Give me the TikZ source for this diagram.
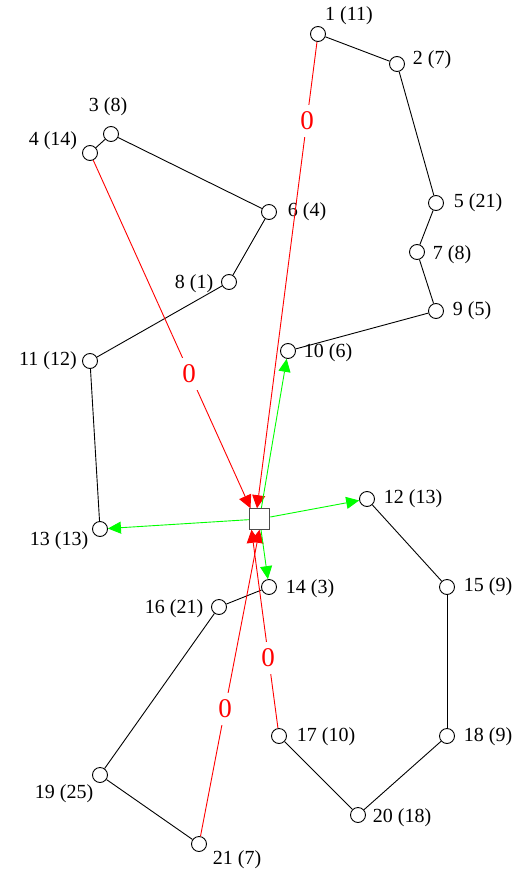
\documentclass[tikz,border=0pt]{standalone}
\usepackage{fontspec}
\setmainfont{Liberation Serif}
\usetikzlibrary{arrows.meta}
\begin{document}
\begin{tikzpicture}[x=1pt,y=-1pt,
  vtx/.style={circle,draw=black,fill=white,line width=0.9pt,minimum size=15pt,inner sep=0pt},
  hub/.style={rectangle,draw=black!70,fill=white,line width=1pt,minimum size=20.5pt,inner sep=0pt},
  lab/.style={font=\fontsize{20}{24}\selectfont,inner sep=0pt},
  zero/.style={font=\fontsize{27}{30}\selectfont,text=red,fill=white,inner xsep=2pt,inner ysep=7pt},
  blk/.style={draw=black,line width=0.9pt},
  redarr/.style={draw=red,line width=0.9pt,-{Triangle[length=13pt,width=13pt]},color=red},
  grnarr/.style={draw=green,line width=0.9pt,-{Triangle[length=13pt,width=12pt]},color=green}]
\useasboundingbox (0,0) rectangle (524,872);
% hub
\node[hub] (sq) at (259.5,519) {};
% vertices
\node[vtx] (n1) at (318,34) {};
\node[vtx] (n2) at (397,64) {};
\node[vtx] (n3) at (111,134) {};
\node[vtx] (n4) at (90,153) {};
\node[vtx] (n5) at (436,203) {};
\node[vtx] (n6) at (269,212) {};
\node[vtx] (n7) at (417,252) {};
\node[vtx] (n8) at (229,282) {};
\node[vtx] (n9) at (436,311) {};
\node[vtx] (n10) at (288,351) {};
\node[vtx] (n11) at (90,361) {};
\node[vtx] (n12) at (367,499) {};
\node[vtx] (n13) at (100,529) {};
\node[vtx] (n14) at (269,587) {};
\node[vtx] (n15) at (447,587) {};
\node[vtx] (n16) at (219,607) {};
\node[vtx] (n17) at (279,736) {};
\node[vtx] (n18) at (447,736) {};
\node[vtx] (n19) at (100,775) {};
\node[vtx] (n20) at (358,815) {};
\node[vtx] (n21) at (199,844) {};
% labels
\node[lab] (l1) at (349,16) {1 (11)};
\node[lab] (l2) at (432,60) {2 (7)};
\node[lab] (l3) at (108,107) {3 (8)};
\node[lab] (l4) at (53,141) {4 (14)};
\node[lab] (l5) at (478,203) {5 (21)};
\node[lab] (l6) at (307,212) {6 (4)};
\node[lab] (l7) at (452,255) {7 (8)};
\node[lab] (l8) at (194,284) {8 (1)};
\node[lab] (l9) at (472,311) {9 (5)};
\node[lab] (l10) at (328,353) {10 (6)};
\node[lab] (l11) at (48,361) {11 (12)};
\node[lab] (l12) at (413,499) {12 (13)};
\node[lab] (l13) at (59,541) {13 (13)};
\node[lab] (l14) at (310,589) {14 (3)};
\node[lab] (l15) at (488,587) {15 (9)};
\node[lab] (l16) at (174,609) {16 (21)};
\node[lab] (l17) at (326,737) {17 (10)};
\node[lab] (l18) at (488,737) {18 (9)};
\node[lab] (l19) at (64,794) {19 (25)};
\node[lab] (l20) at (402,818) {20 (18)};
\node[lab] (l21) at (237,860) {21 (7)};
% black edges
\draw[blk] (n1) -- (n2);
\draw[blk] (n2) -- (n5);
\draw[blk] (n5) -- (n7);
\draw[blk] (n7) -- (n9);
\draw[blk] (n9) -- (n10);
\draw[blk] (n3) -- (n4);
\draw[blk] (n3) -- (n6);
\draw[blk] (n6) -- (n8);
\draw[blk] (n8) -- (n11);
\draw[blk] (n11) -- (n13);
\draw[blk] (n12) -- (n15);
\draw[blk] (n15) -- (n18);
\draw[blk] (n18) -- (n20);
\draw[blk] (n20) -- (n17);
\draw[blk] (n14) -- (n16);
\draw[blk] (n16) -- (n19);
\draw[blk] (n19) -- (n21);
% red edges into hub
\coordinate (t1) at ([xshift=-2.5pt]sq.north);
\coordinate (t4) at ([xshift=-9pt]sq.north);
\coordinate (b17) at ([xshift=-8pt]sq.south);
\coordinate (b21) at ([xshift=0pt]sq.south);
\draw[redarr] (n1) -- (t1);
\draw[redarr] (n4) -- (t4);
\draw[redarr] (n17) -- (b17);
\draw[redarr] (n21) -- (b21);
\node[zero] (z1) at (307,121) {0};
\node[zero] (z4) at (189,374) {0};
\node[zero] (z17) at (268,658) {0};
\node[zero] (z21) at (225,709) {0};
% green edges out of hub
\draw[grnarr] (sq) -- (n10);
\draw[grnarr] (sq) -- (n12);
\draw[grnarr] (sq) -- (n13);
\draw[grnarr] (sq) -- (n14);
% redraw hub on top
\node[hub] at (sq) {};
\end{tikzpicture}
\end{document}
